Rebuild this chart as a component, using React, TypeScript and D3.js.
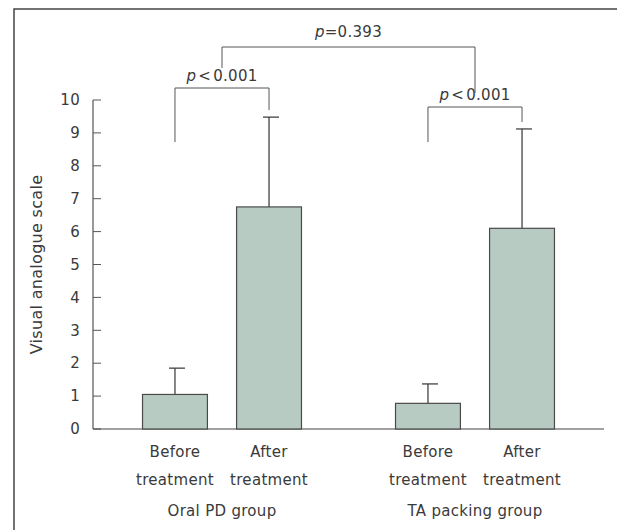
import React from "react";
import * as d3 from "d3";

const groups = ["Oral PD group", "TA packing group"];
const phases = ["Before", "After"];
const means = [
  [1.05, 6.75],
  [0.78, 6.1],
];
const sdTops = [
  [1.85, 9.48],
  [1.37, 9.12],
];
const yTicks = [0, 1, 2, 3, 4, 5, 6, 7, 8, 9, 10];

const width = 617;
const height = 530;
const font = "'DejaVu Sans', sans-serif";
const textColor = "#3a3a3a";
const barFill = "#b7cbc3";
const lineColor = "#333";
const fs = 15;
const ls = 0.3;

export default function App() {
  const x0 = d3.scaleBand().domain(groups).range([95.5, 601.5]);
  const x1 = d3
    .scaleBand()
    .domain(phases)
    .range([0, x0.bandwidth()])
    .paddingInner(0.31)
    .paddingOuter(0.5);
  const y = d3.scaleLinear().domain([0, 10]).range([429, 100]);

  const cx = (gi: number, pi: number) =>
    (x0(groups[gi]) as number) + (x1(phases[pi]) as number) + x1.bandwidth() / 2;

  // significance brackets
  const outerY = 47;
  const b1 = { l: cx(0, 0), r: cx(0, 1), y: 88 };
  const b2 = { l: cx(1, 0), r: cx(1, 1), y: 107 };
  const om1 = (b1.l + b1.r) / 2;
  const om2 = (b2.l + b2.r) / 2;

  const txt = { fontFamily: font, fontSize: fs, fill: textColor, letterSpacing: ls };

  return (
    <svg width={width} height={height} style={{ position: "absolute", left: 0, top: 0 }}>
      <rect x={0} y={0} width={width} height={height} fill="#fff" />
      {/* frame */}
      <path d={`M14,${height}V9H${width}`} fill="none" stroke="#444" strokeWidth={1.5} />

      {/* y axis */}
      <line x1={93} x2={93} y1={y(10)} y2={y(0)} stroke="#555" strokeWidth={1.2} />
      {yTicks.map((t) => (
        <g key={t} transform={`translate(0,${y(t)})`}>
          <line x1={93} x2={101} stroke="#555" strokeWidth={1} />
          <text x={80} dy="0.35em" textAnchor="end" {...txt}>
            {t}
          </text>
        </g>
      ))}
      <text
        transform={`translate(42,${(y(0) + y(10)) / 2}) rotate(-90)`}
        textAnchor="middle"
        {...txt}
        fontSize={16}
      >
        Visual analogue scale
      </text>

      {/* x axis */}
      <line x1={93} x2={604} y1={y(0)} y2={y(0)} stroke="#444" strokeWidth={1.2} />

      {/* bars + error bars */}
      {groups.map((g, gi) =>
        phases.map((p, pi) => {
          const bx = (x0(g) as number) + (x1(p) as number);
          const c = cx(gi, pi);
          return (
            <g key={g + p}>
              <line x1={c} x2={c} y1={y(means[gi][pi])} y2={y(sdTops[gi][pi])} stroke={lineColor} strokeWidth={1.2} />
              <line x1={c - 6} x2={c + 10} y1={y(sdTops[gi][pi])} y2={y(sdTops[gi][pi])} stroke={lineColor} strokeWidth={1.2} />
              <rect
                x={bx}
                y={y(means[gi][pi])}
                width={x1.bandwidth()}
                height={y(0) - y(means[gi][pi])}
                fill={barFill}
                stroke="#4a4a4a"
                strokeWidth={1.2}
              />
              <text x={c} y={457} textAnchor="middle" {...txt}>
                {p}
              </text>
              <text x={c} y={485} textAnchor="middle" {...txt}>
                treatment
              </text>
            </g>
          );
        })
      )}
      {groups.map((g) => (
        <text key={g} x={(x0(g) as number) + x0.bandwidth() / 2} y={516} textAnchor="middle" {...txt}>
          {g}
        </text>
      ))}

      {/* brackets */}
      {[b1, b2].map((b, i) => (
        <g key={i}>
          <path
            d={`M${b.l},${y(8.72)}V${b.y}H${b.r}V${y(sdTops[i][1]) - 7}`}
            fill="none"
            stroke="#555"
            strokeWidth={1}
          />
          <text x={(b.l + b.r) / 2} y={b.y - 7} textAnchor="middle" {...txt}>
            <tspan fontStyle="italic">p</tspan>
            <tspan dx={2}>&lt;</tspan>
            <tspan dx={2}>0.001</tspan>
          </text>
        </g>
      ))}
      <path d={`M${om1},${b1.y - 20}V${outerY}H${om2}V${b2.y - 14}`} fill="none" stroke="#555" strokeWidth={1} />
      <text x={(om1 + om2) / 2} y={outerY - 10} textAnchor="middle" {...txt}>
        <tspan fontStyle="italic">p</tspan>
        <tspan>=0.393</tspan>
      </text>
    </svg>
  );
}
